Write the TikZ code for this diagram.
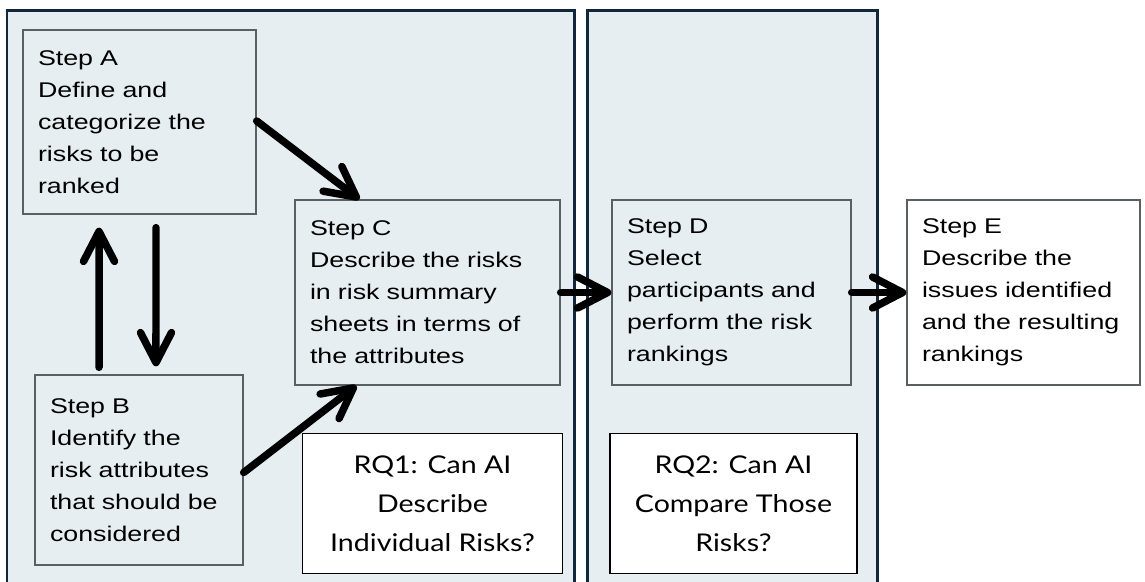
\documentclass[tikz,border=0pt]{standalone}
\usepackage{fontspec}
\usepackage{xcolor}
\usetikzlibrary{arrows.meta}

\newfontfamily\stepfont[FakeStretch=1.26]{Liberation Sans}
\newfontfamily\rqfont[FakeStretch=1.17]{Lato}

\definecolor{panelfill}{HTML}{E6EEF2}
\definecolor{panelline}{HTML}{12283A}
\definecolor{boxline}{HTML}{5A5F63}

\tikzset{
  panel/.style={fill=panelfill, draw=panelline, line width=0.06cm},
  stepbox/.style={draw=boxline, line width=0.8pt, fill=panelfill, align=left,
    inner xsep=0.3cm, font=\stepfont\fontsize{12.1}{18.2}\selectfont},
  rqbox/.style={draw=black, line width=1pt, fill=white, align=center,
    font=\rqfont\fontsize{13.9}{22.2}\selectfont},
  flow/.style={line width=0.15cm, line cap=round,
    -{Straight Barb[round, length=0.6cm, width=0.62cm]}}
}

\begin{document}
\begin{tikzpicture}[x=0.02cm, y=-0.02cm]
    \clip (0,0) rectangle (1145,581);

    % Panels
    \path[panel] (7,11) rectangle (574,600);
    \path[panel] (587,11) rectangle (877,600);

    % Steps
    \node[stepbox, text width=4.06cm, minimum height=3.68cm] (stepA) at (139.5,122)
        {Step A\\Define and\\categorize the\\risks to be\\ranked};
    \node[stepbox, text width=3.56cm, minimum height=3.8cm] (stepB) at (139,470)
        {Step B\\Identify the\\risk attributes\\that should be\\considered};
    \node[stepbox, text width=4.7cm, minimum height=3.7cm] (stepC) at (427.5,292.5)
        {Step C\\Describe the risks\\in risk summary\\sheets in terms of\\the attributes};
    \node[stepbox, text width=4.18cm, minimum height=3.7cm] (stepD) at (731.5,292.5)
        {Step D\\Select\\participants and\\perform the risk\\rankings};
    \node[stepbox, fill=white, text width=4.06cm, minimum height=3.7cm] (stepE) at (1023.5,292.5)
        {Step E\\Describe the\\issues identified\\and the resulting\\rankings};

    % Research questions
    \node[rqbox, minimum width=5.2cm, minimum height=2.8cm] (rq1) at (432.5,503.5)
        {RQ1: Can AI\\Describe\\Individual Risks?};
    \node[rqbox, minimum width=4.94cm, minimum height=2.8cm] (rq2) at (733.5,503.5)
        {RQ2: Can AI\\Compare Those\\Risks?};

    % Arrows
    \draw[flow] ([yshift=0.02cm]stepA.east) -- ([xshift=1.3cm]stepC.north west);
    \draw[flow] ([xshift=-0.8cm,yshift=0.14cm]stepB.north) -- ([xshift=-0.81cm,yshift=-0.26cm]stepA.south);
    \draw[flow] ([xshift=0.33cm,yshift=-0.26cm]stepA.south) -- ([xshift=0.34cm,yshift=0.16cm]stepB.north);
    \draw[flow] ([yshift=-0.05cm]stepB.east) -- ([xshift=1.24cm]stepC.south west);
    \draw[flow] (stepC.east) -- (stepD.west);
    \draw[flow] (stepD.east) -- (stepE.west);
\end{tikzpicture}
\end{document}
